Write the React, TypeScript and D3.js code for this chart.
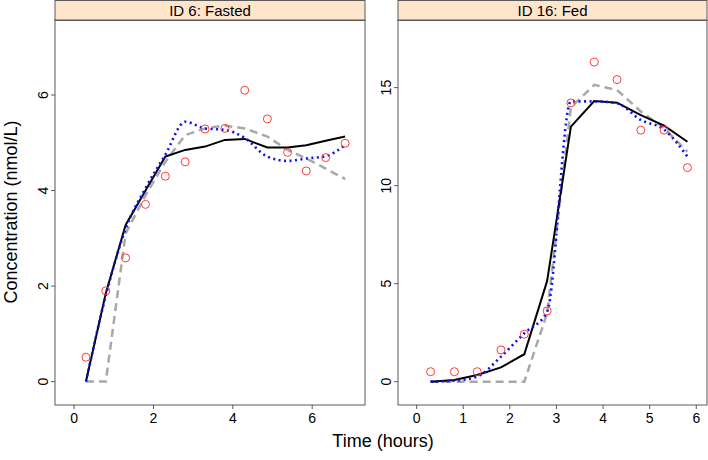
import React from "react";
import * as d3 from "d3";

const fastedTime = [0.3, 0.8, 1.3, 1.8, 2.3, 2.8, 3.3, 3.8, 4.3, 4.87, 5.38, 5.85, 6.34, 6.83];
const fastedObs = [0.51, 1.9, 2.59, 3.71, 4.3, 4.6, 5.29, 5.3, 6.1, 5.5, 4.8, 4.41, 4.69, 4.99];
const fastedIpred = [0, 1.85, 3.28, 4.0, 4.71, 4.85, 4.92, 5.06, 5.08, 4.9, 4.9, 4.95, 5.04, 5.13];
const fastedSmooth = [0, 1.8, 3.2, 4.05, 4.75, 5.44, 5.3, 5.27, 5.1, 4.71, 4.62, 4.67, 4.72, 4.95];
const fastedPred = [0, 0, 3.1, 3.9, 4.6, 5.16, 5.3, 5.36, 5.3, 5.13, 4.85, 4.67, 4.46, 4.24];
const fastedXTicks = [0, 2, 4, 6];
const fastedYTicks = [0, 2, 4, 6];

const fedTime = [0.3, 0.81, 1.3, 1.81, 2.31, 2.8, 3.31, 3.81, 4.3, 4.81, 5.31, 5.81];
const fedObs = [0.51, 0.51, 0.51, 1.62, 2.42, 3.61, 14.22, 16.3, 15.41, 12.83, 12.83, 10.92];
const fedIpred = [0, 0.09, 0.34, 0.73, 1.4, 5.14, 13.01, 14.32, 14.23, 13.6, 13.06, 12.24];
const fedSmooth = [0, 0.05, 0.26, 1.28, 2.47, 3.57, 14.3, 14.3, 14.2, 13.35, 12.86, 11.48];
const fedPred = [0, 0, 0, 0, 0, 3.49, 14.0, 15.14, 14.88, 13.78, 12.93, 11.73];
const fedXTicks = [0, 1, 2, 3, 4, 5, 6];
const fedYTicks = [0, 5, 10, 15];

const panelTitles = ["ID 6: Fasted", "ID 16: Fed"];

const FONT = "'Liberation Sans', Arial, sans-serif";

type Panel = {
  title: string;
  time: number[];
  obs: number[];
  ipred: number[];
  smooth: number[];
  pred: number[];
  xTicks: number[];
  yTicks: number[];
  xDomain: [number, number];
  yDomain: [number, number];
  left: number;
  right: number;
};

const TOP = 20;
const BOTTOM = 405;

const panels: Panel[] = [
  {
    title: panelTitles[0],
    time: fastedTime,
    obs: fastedObs,
    ipred: fastedIpred,
    smooth: fastedSmooth,
    pred: fastedPred,
    xTicks: fastedXTicks,
    yTicks: fastedYTicks,
    xDomain: [-0.48, 7.33],
    yDomain: [-0.49, 7.57],
    left: 55,
    right: 365,
  },
  {
    title: panelTitles[1],
    time: fedTime,
    obs: fedObs,
    ipred: fedIpred,
    smooth: fedSmooth,
    pred: fedPred,
    xTicks: fedXTicks,
    yTicks: fedYTicks,
    xDomain: [-0.4, 6.23],
    yDomain: [-1.19, 18.45],
    left: 398,
    right: 707,
  },
];

function PanelView({ p, idx }: { p: Panel; idx: number }) {
  const x = d3.scaleLinear().domain(p.xDomain).range([p.left, p.right]);
  const y = d3.scaleLinear().domain(p.yDomain).range([BOTTOM, TOP]);
  const mk = (vals: number[], curve: d3.CurveFactory) =>
    d3
      .line<number>()
      .x((_, i) => x(p.time[i]))
      .y((v) => y(v))
      .curve(curve)(vals) || "";
  const clipId = `clip${idx}`;
  const axisColor = "#5a5a5a";
  return (
    <g>
      <defs>
        <clipPath id={clipId}>
          <rect x={p.left} y={TOP} width={p.right - p.left} height={BOTTOM - TOP} />
        </clipPath>
      </defs>
      <g clipPath={`url(#${clipId})`}>
        <path d={mk(p.pred, d3.curveLinear)} fill="none" stroke="#a8a8a8" strokeWidth={2.5} strokeDasharray="8,5" />
        <path d={mk(p.ipred, d3.curveLinear)} fill="none" stroke="#000" strokeWidth={2} />
        <path d={mk(p.smooth, d3.curveMonotoneX)} fill="none" stroke="#1010ee" strokeWidth={2.6} strokeDasharray="2,3.5" />
        {p.obs.map((v, i) => (
          <circle key={i} cx={x(p.time[i])} cy={y(v)} r={4} fill="none" stroke="#ff3b3b" strokeWidth={1} />
        ))}
      </g>
      <rect x={p.left} y={0.5} width={p.right - p.left} height={TOP} fill="#ffe5cc" stroke={axisColor} strokeWidth={1} />
      <text x={(p.left + p.right) / 2} y={15.5} textAnchor="middle" fontFamily={FONT} fontSize={15} fill="#000">
        {p.title}
      </text>
      <rect x={p.left} y={TOP} width={p.right - p.left} height={BOTTOM - TOP} fill="none" stroke={axisColor} strokeWidth={1} />
      {p.xTicks.map((t) => (
        <g key={t}>
          <line x1={x(t)} x2={x(t)} y1={BOTTOM} y2={BOTTOM + 4} stroke={axisColor} />
          <text x={x(t)} y={BOTTOM + 18} textAnchor="middle" fontFamily={FONT} fontSize={14} fill="#000">
            {t}
          </text>
        </g>
      ))}
      {p.yTicks.map((t) => (
        <g key={t}>
          <line x1={p.left - 4} x2={p.left} y1={y(t)} y2={y(t)} stroke={axisColor} />
          <text
            transform={`translate(${p.left - 7},${y(t)}) rotate(-90)`}
            textAnchor="middle"
            fontFamily={FONT}
            fontSize={14}
            fill="#000"
          >
            {t}
          </text>
        </g>
      ))}
    </g>
  );
}

export default function App() {
  return (
    <svg
      width={708}
      height={460}
      style={{ position: "absolute", left: 0, top: 0, background: "#fff" }}
    >
      <rect x={0} y={0} width={708} height={460} fill="#fff" />
      {panels.map((p, i) => (
        <PanelView key={i} p={p} idx={i} />
      ))}
      <text x={383} y={447} textAnchor="middle" fontFamily={FONT} fontSize={18} fill="#000">
        Time (hours)
      </text>
      <text
        transform={`translate(17,${212}) rotate(-90)`}
        textAnchor="middle"
        fontFamily={FONT}
        fontSize={18}
        fill="#000"
      >
        Concentration (nmol/L)
      </text>
    </svg>
  );
}
